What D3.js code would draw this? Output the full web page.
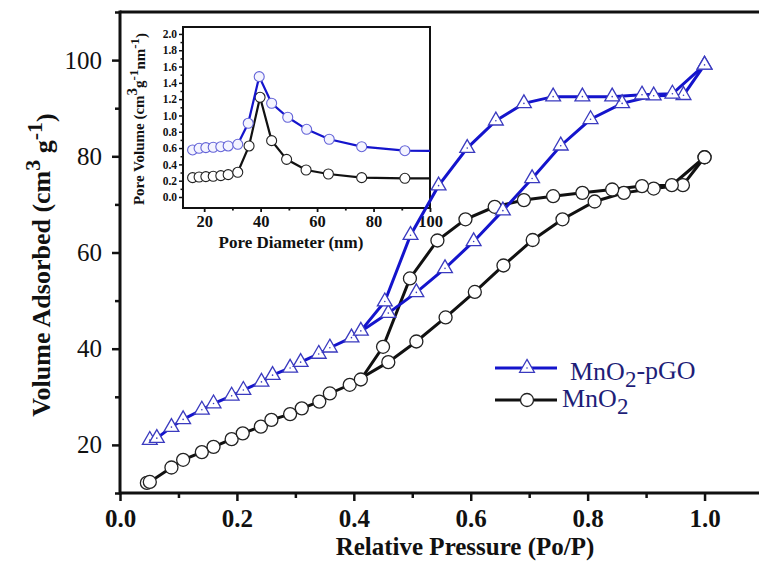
<!DOCTYPE html>
<html>
<head>
<meta charset="utf-8">
<script src="https://cdn.jsdelivr.net/npm/d3@7"></script>
<style>
  body { margin: 0; background: #fff; }
  svg { display: block; font-family: "Liberation Serif", "Times New Roman", serif; }
</style>
</head>
<body>
<div id="chart"></div>
<script>
// isotherm, MnO2-pGO
const pgoAdsP = [0.051, 0.063, 0.088, 0.108, 0.140, 0.160, 0.191, 0.211, 0.242, 0.261, 0.291, 0.309, 0.340, 0.359, 0.396, 0.459, 0.507, 0.556, 0.605, 0.655, 0.705, 0.754, 0.805, 0.859, 0.913, 0.964, 1.0];
const pgoAdsV = [21.0, 21.4, 23.7, 25.3, 27.3, 28.6, 30.2, 31.4, 33.1, 34.5, 36.0, 37.2, 38.9, 40.2, 42.3, 47.4, 51.7, 56.7, 62.3, 68.7, 75.4, 82.2, 87.7, 91.0, 92.6, 92.7, 99.0];
const pgoDesP = [1.0, 0.945, 0.893, 0.842, 0.791, 0.741, 0.691, 0.643, 0.594, 0.545, 0.497, 0.453, 0.412];
const pgoDesV = [99.0, 93.0, 92.8, 92.4, 92.4, 92.4, 91.0, 87.4, 81.7, 73.9, 63.6, 49.8, 43.7];

// isotherm, MnO2
const mnoAdsP = [0.046, 0.051, 0.088, 0.108, 0.140, 0.160, 0.191, 0.210, 0.241, 0.259, 0.291, 0.311, 0.341, 0.359, 0.393, 0.459, 0.507, 0.557, 0.607, 0.656, 0.706, 0.757, 0.812, 0.862, 0.913, 0.963, 1.0];
const mnoAdsV = [12.1, 12.3, 15.3, 16.9, 18.5, 19.6, 21.2, 22.4, 23.8, 25.2, 26.4, 27.6, 29.0, 30.7, 32.5, 37.2, 41.5, 46.5, 51.8, 57.3, 62.6, 66.9, 70.6, 72.4, 73.3, 74.0, 79.8];
const mnoDesP = [1.0, 0.944, 0.893, 0.842, 0.791, 0.741, 0.691, 0.641, 0.591, 0.543, 0.496, 0.450, 0.412];
const mnoDesV = [79.8, 74.0, 73.8, 73.1, 72.4, 71.7, 70.9, 69.5, 66.9, 62.5, 54.6, 40.4, 33.6];

// inset, pore size distribution
const pgoPoreD = [15.9, 18.2, 20.6, 23.2, 25.9, 28.5, 31.9, 35.6, 39.5, 43.9, 49.6, 56.3, 64.3, 75.8, 91.1, 110];
const pgoPoreV = [0.577, 0.597, 0.605, 0.61, 0.617, 0.626, 0.646, 0.904, 1.476, 1.15, 0.978, 0.83, 0.708, 0.617, 0.568, 0.565];
const mnoPoreD = [15.9, 18.2, 20.6, 23.2, 25.9, 28.5, 31.9, 35.9, 39.8, 43.9, 49.2, 56.1, 64.0, 75.8, 91.1, 110];
const mnoPoreV = [0.237, 0.245, 0.25, 0.254, 0.262, 0.274, 0.303, 0.626, 1.223, 0.691, 0.462, 0.331, 0.282, 0.237, 0.229, 0.228];

const xTicks = [0, 0.2, 0.4, 0.6, 0.8, 1.0];
const xMinor = [0.1, 0.3, 0.5, 0.7, 0.9];
const yTicks = [20, 40, 60, 80, 100];
const yMinor = [10, 30, 50, 70, 90, 110];
const insetXTicks = [20, 40, 60, 80, 100];
const insetXMinor = [30, 50, 70, 90];
const insetYTicks = [0, 0.2, 0.4, 0.6, 0.8, 1.0, 1.2, 1.4, 1.6, 1.8, 2.0];
const insetYMinor = [0.1, 0.3, 0.5, 0.7, 0.9, 1.1, 1.3, 1.5, 1.7, 1.9];

const zip = (a, b) => a.map((v, i) => [v, b[i]]);

const blue = "#1414cc";
const triStroke = "#3a3abf";
const ink = "#111";

const svg = d3
  .select("#chart")
  .append("svg")
  .attr("width", 759)
  .attr("height", 561);

const x = d3.scaleLinear().domain([0, 1.1]).range([120, 763]);
const y = d3.scaleLinear().domain([10, 110]).range([493, 12]);

const styleAxis = (g, w) => {
  g.select(".domain").remove();
  g.selectAll(".tick line").attr("stroke", ink).attr("stroke-width", w);
};

// main axes
const xAxis = svg
  .append("g")
  .attr("transform", `translate(0, ${y(10)})`)
  .call(d3.axisBottom(x).tickValues(xTicks).tickSize(8).tickFormat(d3.format(".1f")));
styleAxis(xAxis, 2.5);
xAxis
  .selectAll("text")
  .attr("y", 16)
  .attr("dy", "0.71em")
  .attr("fill", ink)
  .style("font-size", "25px")
  .style("font-weight", "bold")
  .style("font-family", "Liberation Serif");

const xMinorAxis = svg
  .append("g")
  .attr("transform", `translate(0, ${y(10)})`)
  .call(d3.axisBottom(x).tickValues(xMinor).tickSize(5).tickFormat(""));
styleAxis(xMinorAxis, 2.5);

const yAxis = svg
  .append("g")
  .attr("transform", `translate(${x(0)}, 0)`)
  .call(d3.axisLeft(y).tickValues(yTicks).tickSize(8).tickPadding(10));
styleAxis(yAxis, 2.5);
yAxis
  .selectAll("text")
  .attr("fill", ink)
  .style("font-size", "25px")
  .style("font-family", "Liberation Serif");

const yMinorAxis = svg
  .append("g")
  .attr("transform", `translate(${x(0)}, 0)`)
  .call(d3.axisLeft(y).tickValues(yMinor).tickSize(5).tickFormat(""));
styleAxis(yMinorAxis, 2.5);

// frame lines
svg.append("line")
  .attr("x1", x(0)).attr("x2", x(1.1))
  .attr("y1", y(10)).attr("y2", y(10))
  .attr("stroke", ink).attr("stroke-width", 3);
svg.append("line")
  .attr("x1", x(0)).attr("x2", x(1.1))
  .attr("y1", y(110)).attr("y2", y(110))
  .attr("stroke", ink).attr("stroke-width", 3);
svg.append("line")
  .attr("x1", x(0)).attr("x2", x(0))
  .attr("y1", y(10) + 1.5).attr("y2", y(110) - 1.5)
  .attr("stroke", ink).attr("stroke-width", 3);

// axis titles
const yTitle = svg
  .append("text")
  .attr("transform", "translate(50, 265) rotate(-90)")
  .attr("text-anchor", "middle")
  .attr("fill", ink)
  .style("font-size", "26px")
  .style("font-weight", "bold");
yTitle.append("tspan").text("Volume Adsorbed (cm");
yTitle.append("tspan").attr("dy", "-0.45em").style("font-size", "22px").text("3");
yTitle.append("tspan").attr("dy", "0.45em").text(" g");
yTitle.append("tspan").attr("dy", "-0.45em").style("font-size", "22px").text("-1");
yTitle.append("tspan").attr("dy", "0.45em").text(")");

svg
  .append("text")
  .attr("x", 465)
  .attr("y", 555)
  .attr("text-anchor", "middle")
  .attr("fill", ink)
  .style("font-size", "25px")
  .style("font-weight", "bold")
  .text("Relative Pressure (Po/P)");

// inset
const ix = d3.scaleLinear().domain([12.5, 100]).range([183, 430]);
const iy = d3.scaleLinear().domain([-0.135, 2.085]).range([208, 27]);

svg.append("clipPath")
  .attr("id", "insetClip")
  .append("rect")
  .attr("x", ix(12.5)).attr("y", iy(2.085))
  .attr("width", ix(100) - ix(12.5))
  .attr("height", iy(-0.135) - iy(2.085));

const ixAxis = svg
  .append("g")
  .attr("transform", `translate(0, ${iy(-0.135)})`)
  .call(d3.axisBottom(ix).tickValues(insetXTicks).tickSize(4).tickPadding(3));
styleAxis(ixAxis, 1.8);
ixAxis
  .selectAll("text")
  .attr("fill", ink)
  .style("font-size", "16.5px")
  .style("font-weight", "bold")
  .style("font-family", "Liberation Serif");
const ixMinor = svg
  .append("g")
  .attr("transform", `translate(0, ${iy(-0.135)})`)
  .call(d3.axisBottom(ix).tickValues(insetXMinor).tickSize(2.5).tickFormat(""));
styleAxis(ixMinor, 1.8);

const iyAxis = svg
  .append("g")
  .attr("transform", `translate(${ix(12.5)}, 0)`)
  .call(d3.axisLeft(iy).tickValues(insetYTicks).tickSize(4).tickPadding(2).tickFormat(d3.format(".1f")));
styleAxis(iyAxis, 1.5);
iyAxis
  .selectAll("text")
  .attr("fill", ink)
  .style("font-size", "11.5px")
  .style("font-weight", "bold")
  .style("font-family", "Liberation Serif");
const iyMinor = svg
  .append("g")
  .attr("transform", `translate(${ix(12.5)}, 0)`)
  .call(d3.axisLeft(iy).tickValues(insetYMinor).tickSize(2.5).tickFormat(""));
styleAxis(iyMinor, 1.5);

svg.append("rect")
  .attr("x", ix(12.5)).attr("y", iy(2.085))
  .attr("width", ix(100) - ix(12.5))
  .attr("height", iy(-0.135) - iy(2.085))
  .attr("fill", "none")
  .attr("stroke", ink)
  .attr("stroke-width", 2);

const iyTitle = svg
  .append("text")
  .attr("transform", "translate(144, 119) rotate(-90)")
  .attr("text-anchor", "middle")
  .attr("fill", ink)
  .style("font-size", "15px")
  .style("font-weight", "bold");
iyTitle.append("tspan").text("Pore Volume (cm");
iyTitle.append("tspan").attr("dy", "-0.45em").text("3");
iyTitle.append("tspan").attr("dy", "0.45em").text("g");
iyTitle.append("tspan").attr("dy", "-0.45em").style("font-size", "13px").text("-1");
iyTitle.append("tspan").attr("dy", "0.45em").text("nm");
iyTitle.append("tspan").attr("dy", "-0.45em").style("font-size", "13px").text("-1");
iyTitle.append("tspan").attr("dy", "0.45em").text(")");

svg
  .append("text")
  .attr("x", 291)
  .attr("y", 248)
  .attr("text-anchor", "middle")
  .attr("fill", ink)
  .style("font-size", "17px")
  .style("font-weight", "bold")
  .text("Pore Diameter (nm)");

const insetLine = d3.line().x((d) => ix(d[0])).y((d) => iy(d[1]));
const insetSeries = [
  { pts: zip(mnoPoreD, mnoPoreV), line: ink, stroke: "#222", fill: "#fff" },
  { pts: zip(pgoPoreD, pgoPoreV), line: blue, stroke: "#6464d8", fill: "#f4f4ff" }
];
const insetG = svg.append("g").attr("clip-path", "url(#insetClip)");
insetSeries.forEach((s) => {
  insetG.append("path")
    .attr("d", insetLine(s.pts))
    .attr("fill", "none")
    .attr("stroke", s.line)
    .attr("stroke-width", 2.2);
  insetG.selectAll(null)
    .data(s.pts)
    .join("circle")
    .attr("cx", (d) => ix(d[0]))
    .attr("cy", (d) => iy(d[1]))
    .attr("r", 5)
    .attr("fill", s.fill)
    .attr("stroke", s.stroke)
    .attr("stroke-width", 1.1);
});

// main isotherms
const line = d3.line().x((d) => x(d[0])).y((d) => y(d[1]));
const tri = d3.symbol().type(d3.symbolTriangle).size(95);

const drawCircles = (pts) => {
  svg.append("g")
    .selectAll("circle")
    .data(pts)
    .join("circle")
    .attr("cx", (d) => x(d[0]))
    .attr("cy", (d) => y(d[1]))
    .attr("r", 6.5)
    .attr("fill", "#fff")
    .attr("stroke", "#222")
    .attr("stroke-width", 1.3);
};
const drawTriangles = (pts) => {
  const g = svg.append("g")
    .selectAll("g")
    .data(pts)
    .join("g")
    .attr("transform", (d) => `translate(${x(d[0])}, ${y(d[1])})`);
  g.append("path")
    .attr("d", tri)
    .attr("fill", "#fff")
    .attr("stroke", triStroke)
    .attr("stroke-width", 1.3);
  g.append("circle").attr("r", 0.8).attr("fill", triStroke);
};

[zip(mnoAdsP, mnoAdsV), zip(mnoDesP, mnoDesV)].forEach((pts) => {
  svg.append("path")
    .attr("d", line(pts))
    .attr("fill", "none")
    .attr("stroke", ink)
    .attr("stroke-width", 3);
});
[zip(pgoAdsP, pgoAdsV), zip(pgoDesP, pgoDesV)].forEach((pts) => {
  svg.append("path")
    .attr("d", line(pts))
    .attr("fill", "none")
    .attr("stroke", blue)
    .attr("stroke-width", 3);
});
drawCircles(zip(mnoAdsP, mnoAdsV));
drawCircles(zip(mnoDesP, mnoDesV));
drawTriangles(zip(pgoAdsP, pgoAdsV));
drawTriangles(zip(pgoDesP, pgoDesV));

// legend
const legend = [
  { name: "MnO", sub: "2", rest: "-pGO", color: blue, y: 368, textX: 570, base: 380, mark: "tri" },
  { name: "MnO", sub: "2", rest: "", color: ink, y: 400, textX: 562, base: 407, mark: "circle" }
];
legend.forEach((l) => {
  svg.append("line")
    .attr("x1", 495).attr("x2", 557)
    .attr("y1", l.y).attr("y2", l.y)
    .attr("stroke", l.color)
    .attr("stroke-width", 3);
  if (l.mark === "tri") {
    const g = svg.append("g").attr("transform", `translate(527, ${l.y})`);
    g.append("path").attr("d", tri).attr("fill", "#fff").attr("stroke", triStroke).attr("stroke-width", 1.3);
    g.append("circle").attr("r", 0.8).attr("fill", triStroke);
  } else {
    svg.append("circle")
      .attr("cx", 527).attr("cy", l.y).attr("r", 6.5)
      .attr("fill", "#fff").attr("stroke", "#222").attr("stroke-width", 1.3);
  }
  const t = svg.append("text")
    .attr("x", l.textX)
    .attr("y", l.base)
    .attr("fill", "#1e1e78")
    .style("font-size", "26px");
  t.append("tspan").text(l.name);
  t.append("tspan").attr("dy", "0.3em").style("font-size", "23px").text(l.sub);
  if (l.rest) t.append("tspan").attr("dy", "-0.3em").text(l.rest);
});
</script>
</body>
</html>
